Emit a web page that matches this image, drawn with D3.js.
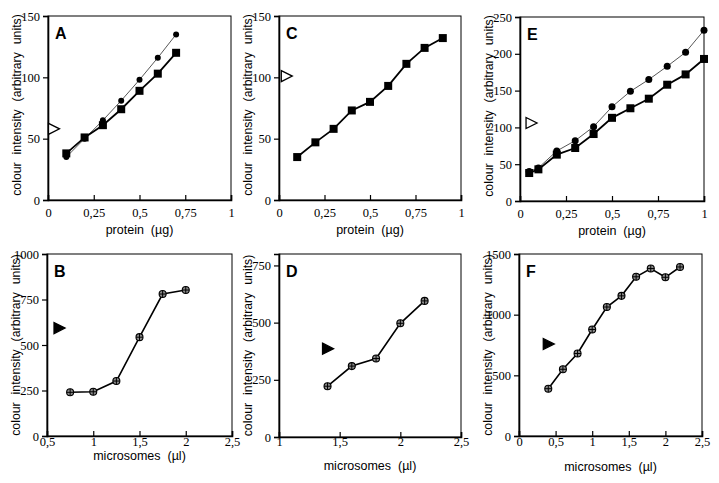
<!DOCTYPE html>
<html><head><meta charset="utf-8">
<script src="https://cdn.jsdelivr.net/npm/d3@7/dist/d3.min.js"></script>
<style>body{margin:0;background:#fff}</style>
</head><body>
<script>
// ---- data ----
const xA = [0.1,0.2,0.3,0.4,0.5,0.6,0.7];
const aSquares = [38,51,61,74,89,103,120];
const aCircles = [35,50,65,81,98,116,135];
const aMarker = [0.03, 58];

const xC = [0.1,0.2,0.3,0.4,0.5,0.6,0.7,0.8,0.9];
const cSquares = [35,47,58,73,80,93,111,124,132];
const cMarker = [0.04, 101];

const xE = [0.05,0.1,0.2,0.3,0.4,0.5,0.6,0.7,0.8,0.9,1.0];
const eSquares = [38,43,63,72,91,113,126,139,158,172,193];
const eCircles = [40,45,68,82,101,128,149,165,183,202,232];
const eMarker = [0.06, 106];

const xB = [0.75,1.0,1.25,1.5,1.75,2.0];
const bValues = [240,243,302,543,780,802];
const bMarker = [0.63, 593];

const xD = [1.4,1.6,1.8,2.0,2.2];
const dValues = [222,310,343,497,595];
const dMarker = [1.4, 386];

const xF = [0.4,0.6,0.8,1.0,1.2,1.4,1.6,1.8,2.0,2.2];
const fValues = [390,550,680,878,1063,1155,1312,1380,1308,1393];
const fMarker = [0.4, 758];

const proteinTicks = [0,0.25,0.5,0.75,1];
const microTicksB = [0.5,1,1.5,2,2.5];
const microTicksD = [1,1.5,2,2.5];
const microTicksF = [0,0.5,1,1.5,2,2.5];
const yTicksA = [0,50,100,150];
const yTicksE = [0,50,100,150,200,250];
const yTicksB = [0,250,500,750,1000];
const yTicksD = [0,250,500,750];
const yTicksF = [0,500,1000,1500];

const yTitle = "colour intensity (arbitrary units)";
const xTitleTop = "protein  (µg)";
const xTitleBot = "microsomes  (µl)";

// ---- layout ----
const W = 719, H = 483;
const svg = d3.select("body").append("svg").attr("width", W).attr("height", H);

const fmt = v => String(v).replace(".", ",");

function panel(cfg){
  const g = svg.append("g");
  const x = d3.scaleLinear().domain(cfg.xDomain).range([cfg.x0, cfg.x1]);
  const y = d3.scaleLinear().domain(cfg.yDomain).range([cfg.y1, cfg.y0]);
  g.append("rect").attr("x", cfg.x0).attr("y", cfg.y0)
    .attr("width", cfg.x1 - cfg.x0).attr("height", cfg.y1 - cfg.y0)
    .attr("fill", "none").attr("stroke", "#000").attr("stroke-width", 1);
  const xa = g.append("g").attr("transform", `translate(0,${cfg.y1})`)
    .call(d3.axisBottom(x).tickValues(cfg.xTicks).tickSize(-5).tickPadding(cfg.xPad).tickFormat(fmt));
  const ya = g.append("g").attr("transform", `translate(${cfg.x0},0)`)
    .call(d3.axisLeft(y).tickValues(cfg.yTicks).tickSize(5).tickPadding(3).tickFormat(fmt));
  [xa, ya].forEach(a => {
    a.attr("font-family", null).attr("font-size", null);
    a.select(".domain").attr("stroke", "#000").attr("stroke-width", 1.6);
    a.selectAll(".tick line").attr("stroke", "#000").attr("stroke-width", 1.2);
    a.selectAll(".tick text").style("font-family", "'Liberation Serif', 'Times New Roman', serif")
      .style("font-size", "12.5px").attr("fill", "#000");
  });
  g.append("text").attr("x", (cfg.x0 + cfg.x1) / 2).attr("y", cfg.xTitleY)
    .attr("text-anchor", "middle").style("font-family", "'Liberation Sans', Arial, sans-serif")
    .style("font-size", "12.5px").style("white-space", "pre").text(cfg.xTitle);
  g.append("text").attr("transform", `translate(${cfg.x0 - 27},${(cfg.y0 + cfg.y1) / 2 + cfg.yTitleShift}) rotate(-90)`)
    .attr("text-anchor", "middle").style("font-family", "'Liberation Sans', Arial, sans-serif")
    .style("font-size", "12.3px").style("word-spacing", "4.5px").text(yTitle);
  g.append("text").attr("x", cfg.x0 + 7).attr("y", cfg.y0 + 23)
    .style("font-family", "'Liberation Sans', Arial, sans-serif").attr("font-weight", "bold")
    .style("font-size", "16px").text(cfg.label);

  const line = d3.line();
  cfg.series.forEach(s => {
    const pts = cfg.xs.map((v, i) => [x(v), y(s.values[i])]);
    g.append("path").attr("d", line(pts)).attr("fill", "none")
      .attr("stroke", s.lineColor || "#000").attr("stroke-width", s.lw);
    pts.forEach(p => {
      if (s.shape === "square") {
        g.append("rect").attr("x", p[0] - s.size / 2).attr("y", p[1] - s.size / 2)
          .attr("width", s.size).attr("height", s.size).attr("fill", "#000");
      } else if (s.shape === "circle") {
        g.append("circle").attr("cx", p[0]).attr("cy", p[1]).attr("r", s.size / 2).attr("fill", "#000");
      } else {
        g.append("circle").attr("cx", p[0]).attr("cy", p[1]).attr("r", s.size / 2)
          .attr("fill", "#8a8a8a").attr("stroke", "#000").attr("stroke-width", 1.1);
        g.append("path").attr("d", `M${p[0]-s.size/2},${p[1]}H${p[0]+s.size/2}M${p[0]},${p[1]-s.size/2}V${p[1]+s.size/2}`)
          .attr("stroke", "#000").attr("stroke-width", 1);
      }
    });
  });
  const mx = x(cfg.marker[0]), my = y(cfg.marker[1]);
  g.append("path").attr("d", `M${mx-5},${my-5.5}L${mx+6},${my}L${mx-5},${my+5.5}Z`)
    .attr("fill", cfg.markerFilled ? "#000" : "#fff").attr("stroke", "#000").attr("stroke-width", 1.3);
}

panel({label:"A", x0:48, x1:231, y0:16, y1:200, xDomain:[0,1], yDomain:[0,150], xPad:8, xTitleY:234, yTitleShift:-3,
  xTicks:proteinTicks, yTicks:yTicksA, xTitle:xTitleTop, xs:xA, marker:aMarker, markerFilled:false,
  series:[{values:aCircles, shape:"circle", size:6, lw:0.9, lineColor:"#444"},
          {values:aSquares, shape:"square", size:8, lw:1.8}]});
panel({label:"C", x0:279, x1:461, y0:16, y1:200, xDomain:[0,1], yDomain:[0,150], xPad:8, xTitleY:234, yTitleShift:-3,
  xTicks:proteinTicks, yTicks:yTicksA, xTitle:xTitleTop, xs:xC, marker:cMarker, markerFilled:false,
  series:[{values:cSquares, shape:"square", size:8, lw:1.8}]});
panel({label:"E", x0:520, x1:704, y0:17, y1:201, xDomain:[0,1], yDomain:[0,250], xPad:8, xTitleY:235, yTitleShift:-3,
  xTicks:proteinTicks, yTicks:yTicksE, xTitle:xTitleTop, xs:xE, marker:eMarker, markerFilled:false,
  series:[{values:eCircles, shape:"circle", size:7, lw:0.9, lineColor:"#444"},
          {values:eSquares, shape:"square", size:8, lw:1.8}]});
panel({label:"B", x0:47, x1:232, y0:254, y1:436, xDomain:[0.5,2.5], yDomain:[0,1000], xPad:1, xTitleY:460, yTitleShift:0,
  xTicks:microTicksB, yTicks:yTicksB, xTitle:xTitleBot, xs:xB, marker:bMarker, markerFilled:true,
  series:[{values:bValues, shape:"cross", size:7, lw:1.6}]});
panel({label:"D", x0:279, x1:461, y0:254, y1:437, xDomain:[1,2.5], yDomain:[0,800], xPad:0, xTitleY:470, yTitleShift:0,
  xTicks:microTicksD, yTicks:yTicksD, xTitle:xTitleBot, xs:xD, marker:dMarker, markerFilled:true,
  series:[{values:dValues, shape:"cross", size:7, lw:1.6}]});
panel({label:"F", x0:519, x1:702, y0:254, y1:436, xDomain:[0,2.5], yDomain:[0,1500], xPad:1, xTitleY:471, yTitleShift:0,
  xTicks:microTicksF, yTicks:yTicksF, xTitle:xTitleBot, xs:xF, marker:fMarker, markerFilled:true,
  series:[{values:fValues, shape:"cross", size:7, lw:1.6}]});
</script>
</body></html>
